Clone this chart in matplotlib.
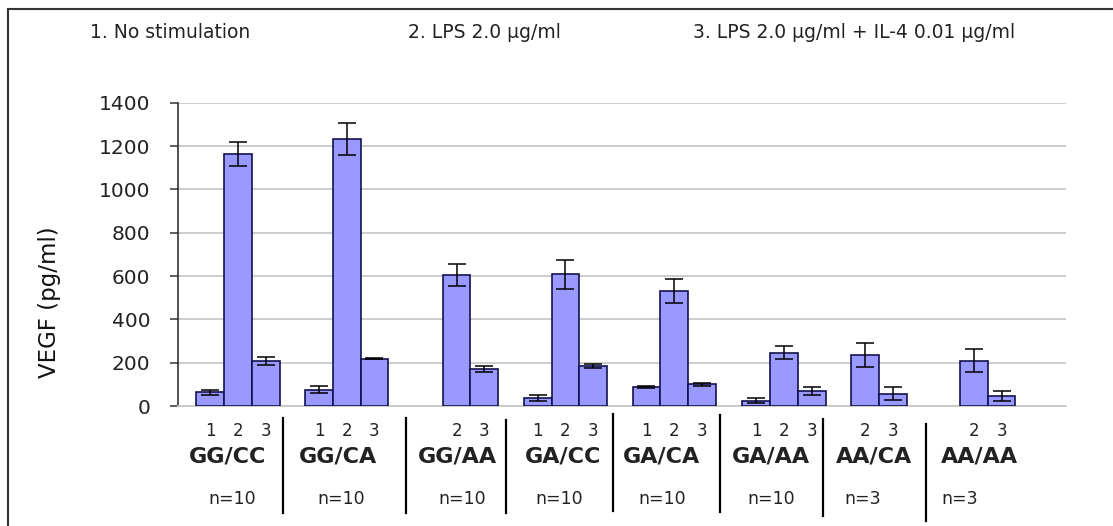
import numpy as np
import matplotlib.pyplot as plt
import matplotlib.transforms as mtransforms
from matplotlib.lines import Line2D

genotypes = ['GG/CC', 'GG/CA', 'GG/AA', 'GA/CC', 'GA/CA', 'GA/AA', 'AA/CA', 'AA/AA']
n_labels = ['n=10', 'n=10', 'n=10', 'n=10', 'n=10', 'n=10', 'n=3', 'n=3']
stim1 = [63, 75, np.nan, 37, 89, 25, np.nan, np.nan]
err1 = [10, 17, np.nan, 13, 4, 12, np.nan, np.nan]
stim2 = [1162, 1232, 604, 608, 531, 246, 236, 210]
err2 = [55, 74, 52, 68, 55, 29, 54, 55]
stim3 = [208, 219, 170, 185, 100, 70, 56, 47]
err3 = [17, 4, 15, 9, 8, 19, 30, 22]
conditions = ['1. No stimulation', '2. LPS 2.0 \u03bcg/ml', '3. LPS 2.0 \u03bcg/ml + IL-4 0.01 \u03bcg/ml']
yticks = [0, 200, 400, 600, 800, 1000, 1200, 1400]

# layout (x in category units, the groups are not evenly spaced)
centers = np.array([0.54, 1.52, 2.51, 3.49, 4.47, 5.46, 6.19, 7.17])
name_x = [0.446, 1.444, 2.514, 3.468, 4.357, 5.342, 6.266, 7.216]
nlab_x = [0.486, 1.473, 2.556, 3.432, 4.36, 5.342, 6.171, 7.045]
sep_x = [0.943, 2.051, 2.955, 3.915, 4.886, 5.811, 6.739]
sep_top = [418, 418, 420, 414, 415, 419, 424]
sep_bot = [513, 513, 513, 511, 512, 516, 521]
width = 0.25
W, H = 1113, 526

plt.rcParams['font.family'] = ['DejaVu Sans']
fig = plt.figure(figsize=(W / 100, H / 100), dpi=100)
ax = fig.add_axes([178 / W, 1 - 406 / H, (1066 - 178) / W, (406 - 102.7) / H])

face = '#9999ff'
edge = '#12124e'
series = [(stim1, err1), (stim2, err2), (stim3, err3)]
for k, (vals, errs) in enumerate(series):
  xs = centers + (k - 1) * width
  ax.bar(xs, vals, width, color=face, edgecolor=edge, linewidth=1.2, zorder=3)
  ax.errorbar(xs, vals, yerr=errs, fmt='none', ecolor='black', elinewidth=1.1,
              capsize=6.5, capthick=1.1, zorder=4)

ax.set_xlim(0, 8)
ax.set_ylim(0, 1400)
ax.set_yticks(yticks)
ax.yaxis.grid(True, color='#c8c8c8', linewidth=1.3, zorder=0)
ax.set_axisbelow(True)
ax.set_xticks([])
for s in ['top', 'right']:
  ax.spines[s].set_visible(False)
ax.spines['bottom'].set_color('#c8c8c8')
ax.spines['bottom'].set_linewidth(1.3)
ax.spines['left'].set_color('#333333')
ax.spines['left'].set_linewidth(1.2)
ax.tick_params(axis='y', direction='out', length=6, width=1.1, color='#333333',
               pad=14, labelsize=14.5, labelcolor='#222222')

# labels under the bars
tr = mtransforms.blended_transform_factory(ax.transData, fig.transFigure)
for g in range(len(genotypes)):
  for k, (vals, errs) in enumerate(series):
    if not np.isnan(vals[g]):
      ax.text(centers[g] + (k - 1) * width, 1 - 431 / H, str(k + 1), transform=tr,
              ha='center', va='center', fontsize=12, color='#222222')
  ax.text(name_x[g], 1 - 457 / H, genotypes[g], transform=tr, ha='center', va='center',
          fontsize=16, fontweight='bold', color='#222222')
  ax.text(nlab_x[g], 1 - 499 / H, n_labels[g], transform=tr, ha='center', va='center',
          fontsize=12.5, color='#222222')
for x, t, b in zip(sep_x, sep_top, sep_bot):
  ax.add_line(Line2D([x, x], [1 - t / H, 1 - b / H], transform=tr, color='black',
                     linewidth=1.6, clip_on=False))

fig.text(50 / W, 1 - 302 / H, 'VEGF (pg/ml)', rotation=90, ha='center', va='center',
         fontsize=16.5, color='#111111')
for x, txt in zip([90, 408, 693], conditions):
  fig.text(x / W, 1 - 32 / H, txt, ha='left', va='center', fontsize=13.5, color='#222222')

# outer frame (only left and top edges are visible in the picture)
fig.add_artist(Line2D([7.5 / W, 7.5 / W], [0, 1 - 9.3 / H], color='#333333', linewidth=1.5))
fig.add_artist(Line2D([7.5 / W, 1], [1 - 9.3 / H, 1 - 9.3 / H], color='#333333', linewidth=1.5))

fig.savefig('out.png', dpi=100)
